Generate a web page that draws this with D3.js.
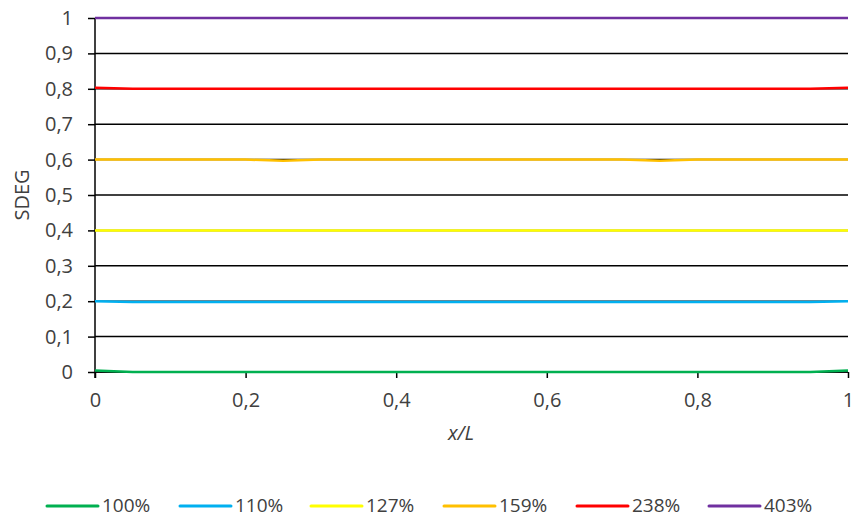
<!DOCTYPE html>
<html><head><meta charset="utf-8">
<script src="https://cdn.jsdelivr.net/npm/d3@7"></script>
<style>body{margin:0;background:#fff}text{font-family:"Open Sans",sans-serif;fill:#404040}</style>
</head><body><svg id="c" width="853" height="518"></svg>
<script>
const xs = [0,0.05,0.1,0.15,0.2,0.25,0.3,0.35,0.4,0.45,0.5,0.55,0.6,0.65,0.7,0.75,0.8,0.85,0.9,0.95,1];
const s100 = [0.004,0,0,0,0,0,0,0,0,0,0,0,0,0,0,0,0,0,0,0,0.004];
const s110 = [0.2,0.198,0.198,0.198,0.198,0.198,0.198,0.198,0.198,0.198,0.198,0.198,0.198,0.198,0.198,0.198,0.198,0.198,0.198,0.198,0.2];
const s127 = [0.4,0.4,0.4,0.4,0.4,0.4,0.4,0.4,0.4,0.4,0.4,0.4,0.4,0.4,0.4,0.4,0.4,0.4,0.4,0.4,0.4];
const s159 = [0.6,0.6,0.6,0.6,0.6,0.597,0.6,0.6,0.6,0.6,0.6,0.6,0.6,0.6,0.6,0.597,0.6,0.6,0.6,0.6,0.6];
const s238 = [0.803,0.8,0.8,0.8,0.8,0.8,0.8,0.8,0.8,0.8,0.8,0.8,0.8,0.8,0.8,0.8,0.8,0.8,0.8,0.8,0.803];
const s403 = [1,1,1,1,1,1,1,1,1,1,1,1,1,1,1,1,1,1,1,1,1];
const seriesNames = ["100%","110%","127%","159%","238%","403%"];
const seriesColors = ["#00B050","#00B0F0","#FFFF00","#FFC000","#FF0000","#7030A0"];
const seriesData = [s100,s110,s127,s159,s238,s403];
const xTicks = [0,0.2,0.4,0.6,0.8,1];
const yTicks = [0,0.1,0.2,0.3,0.4,0.5,0.6,0.7,0.8,0.9,1];
const fmt = d => String(+d.toFixed(1)).replace(".", ",");

const svg = d3.select("#c");
const x = d3.scaleLinear().domain([0,1]).range([95,848]);
const y = d3.scaleLinear().domain([0,1]).range([372,18]);

// gridlines
svg.append("g").selectAll("line").data(yTicks).join("line")
  .attr("x1",x(0)).attr("x2",x(1)).attr("y1",d=>y(d)).attr("y2",d=>y(d))
  .attr("stroke","#000").attr("stroke-width",1.5);

// y axis
const ya = svg.append("g").attr("transform",`translate(${x(0)},0)`)
  .call(d3.axisLeft(y).tickValues(yTicks).tickFormat(fmt).tickSize(7).tickPadding(15));
ya.select(".domain").attr("stroke","#000").attr("stroke-width",1.5).attr("d",`M0,${y(0)+6}V${y(1)}`);
ya.selectAll(".tick line").attr("stroke","#000").attr("stroke-width",1.5);
ya.selectAll("text").style("font-size","20px").attr("fill","#404040");

// x axis
const xa = svg.append("g").attr("transform",`translate(0,${y(0)})`)
  .call(d3.axisBottom(x).tickValues(xTicks).tickFormat(fmt).tickSize(6).tickPadding(15));
xa.select(".domain").attr("stroke","#000").attr("stroke-width",1.5).attr("d",`M${x(0)},0H${x(1)}`);
xa.selectAll(".tick line").attr("stroke","#000").attr("stroke-width",1.5);
xa.selectAll("text").style("font-size","20px").attr("fill","#404040");

// series
const line = d3.line().x((d,i)=>x(xs[i])).y(d=>y(d));
seriesData.forEach((s,k)=>{
  svg.append("path").datum(s).attr("d",line).attr("fill","none")
    .attr("stroke",seriesColors[k]).attr("stroke-width",2.5);
});

// axis titles
svg.append("text").attr("x",461).attr("y",440).attr("text-anchor","middle")
  .style("font-size","20px").style("font-style","italic").text("x/L");
svg.append("text").attr("transform","translate(29,195) rotate(-90)").attr("text-anchor","middle")
  .style("font-size","20px").text("SDEG");

// legend
const legX = [47,180,311,444,577,709];
const lg = svg.append("g").selectAll("g").data(seriesNames).join("g")
  .attr("transform",(d,i)=>`translate(${legX[i]},506)`);
lg.append("line").attr("x1",0).attr("x2",51).attr("y1",0).attr("y2",0)
  .attr("stroke",(d,i)=>seriesColors[i]).attr("stroke-width",3).attr("stroke-linecap","round");
lg.append("text").attr("x",55).attr("y",6).style("font-size","19px").text(d=>d);
</script></body></html>
